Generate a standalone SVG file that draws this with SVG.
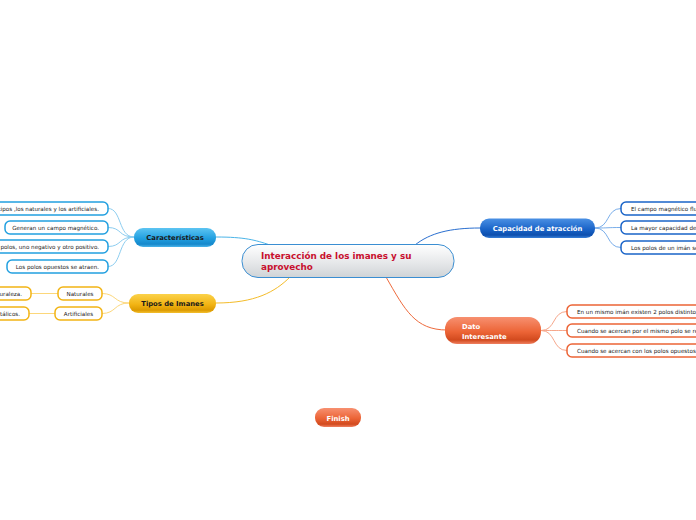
<svg xmlns="http://www.w3.org/2000/svg" width="696" height="520" viewBox="0 0 696 520">
<defs>
<linearGradient id="gC" x1="0" y1="0" x2="0" y2="1"><stop offset="0" stop-color="#ffffff"/><stop offset="0.6" stop-color="#e4e6e8"/><stop offset="1" stop-color="#cfd3d6"/></linearGradient>
<linearGradient id="gB1" x1="0" y1="0" x2="0" y2="1"><stop offset="0" stop-color="#5cc4f2"/><stop offset="0.55" stop-color="#22a0e0"/><stop offset="0.85" stop-color="#1588cc"/><stop offset="1" stop-color="#4ab4ea"/></linearGradient>
<linearGradient id="gB2" x1="0" y1="0" x2="0" y2="1"><stop offset="0" stop-color="#4a90e4"/><stop offset="0.55" stop-color="#1a64c8"/><stop offset="0.85" stop-color="#0d4fae"/><stop offset="1" stop-color="#3a80d8"/></linearGradient>
<linearGradient id="gY" x1="0" y1="0" x2="0" y2="1"><stop offset="0" stop-color="#fbd24a"/><stop offset="0.55" stop-color="#f2b414"/><stop offset="0.85" stop-color="#dc9a00"/><stop offset="1" stop-color="#f4c030"/></linearGradient>
<linearGradient id="gO" x1="0" y1="0" x2="0" y2="1"><stop offset="0" stop-color="#f79070"/><stop offset="0.55" stop-color="#ec6436"/><stop offset="0.85" stop-color="#d24a1e"/><stop offset="1" stop-color="#f08060"/></linearGradient>
</defs>
<style>
.t{font-family:"DejaVu Sans",Verdana,sans-serif;}
.leaf{fill:#ffffff;stroke-width:1.5;}
.lt{font-family:"DejaVu Sans",Verdana,sans-serif;font-size:5.6px;fill:#1a1a1a;}
.mt{font-family:"DejaVu Sans",Verdana,sans-serif;font-size:6.8px;font-weight:bold;}
.c{fill:none;stroke-width:1;}
</style>
<g id="connectors">
<path class="c" stroke="#4ab4e8" stroke-width="1.2" d="M216,237 C245,237 255,240 270,245"/>
<path class="c" stroke="#f4bc2a" stroke-width="1.2" d="M216,303 C255,303 275,292 290,277"/>
<path class="c" stroke="#2a6fd0" stroke-width="1.2" d="M415,245 C430,233 450,228 480,228"/>
<path class="c" stroke="#ee6a3c" stroke-width="1.2" d="M386,277 C405,310 415,330 447,330"/>
<g stroke="#8ccdf0">
<path class="c" d="M134,237 C118,237 122,208.5 108,208.5"/>
<path class="c" d="M134,237 C118,237 122,227.5 108,227.5"/>
<path class="c" d="M134,237 C118,237 122,246.5 108,246.5"/>
<path class="c" d="M134,237 C118,237 122,266.5 108,266.5"/>
</g>
<g stroke="#fcd77a">
<path class="c" d="M129,303 C114,303 116,293.5 102,293.5"/>
<path class="c" d="M129,303 C114,303 116,313.5 102,313.5"/>
<path class="c" d="M58,293.5 L31,293.5"/>
<path class="c" d="M55,313.5 L29,313.5"/>
</g>
<g stroke="#7aaeea">
<path class="c" d="M595,228 C610,228 606,208.5 621,208.5"/>
<path class="c" d="M595,228 C610,228 606,227.5 621,227.5"/>
<path class="c" d="M595,228 C610,228 606,247.5 621,247.5"/>
</g>
<g stroke="#f6a68a">
<path class="c" d="M541,330.5 C556,330.5 552,311.5 567,311.5"/>
<path class="c" d="M541,330.5 C556,330.5 552,330.5 567,330.5"/>
<path class="c" d="M541,330.5 C556,330.5 552,350.5 567,350.5"/>
</g>
</g>
<g id="central">
<rect x="242" y="244.5" width="212" height="33" rx="16" fill="url(#gC)" stroke="#3a8ed2" stroke-width="1"/>
<text class="t" x="261" y="259" font-size="8.8" font-weight="bold" fill="#c8102e">Interacción de los imanes y su</text>
<text class="t" x="261" y="270" font-size="8.8" font-weight="bold" fill="#c8102e">aprovecho</text>
</g>
<g id="caracteristicas">
<rect x="134" y="228" width="82" height="19" rx="9" fill="url(#gB1)"/>
<text class="mt" x="175" y="240" text-anchor="middle" fill="#1a1a1a">Características</text>
</g>
<g id="c1"><rect class="leaf" x="-10" y="202" width="118" height="13" rx="5" stroke="#22a0e0"/><text class="lt" x="99" y="210.5" text-anchor="end">tipos ,los naturales y los artificiales.</text></g>
<g id="c2"><rect class="leaf" x="5" y="221" width="103" height="13" rx="5" stroke="#22a0e0"/><text class="lt" x="99" y="229.5" text-anchor="end">Generan un campo magnético.</text></g>
<g id="c3"><rect class="leaf" x="-10" y="240" width="118" height="13" rx="5" stroke="#22a0e0"/><text class="lt" x="99" y="248.5" text-anchor="end">polos, uno negativo y otro positivo.</text></g>
<g id="c4"><rect class="leaf" x="7" y="260" width="101" height="13" rx="5" stroke="#22a0e0"/><text class="lt" x="99" y="268.5" text-anchor="end">Los polos opuestos se atraen.</text></g>
<g id="tipos">
<rect x="129" y="294" width="87" height="19" rx="9" fill="url(#gY)"/>
<text class="mt" x="172.5" y="306" text-anchor="middle" fill="#1a1a1a">Tipos de Imanes</text>
</g>
<g id="t1"><rect class="leaf" x="58" y="287" width="44" height="13" rx="5" stroke="#f2b414"/><text class="lt" x="80" y="295.5" text-anchor="middle">Naturales</text></g>
<g id="t2"><rect class="leaf" x="55" y="307" width="47" height="13" rx="5" stroke="#f2b414"/><text class="lt" x="78.5" y="315.5" text-anchor="middle">Artificiales</text></g>
<g id="t1a"><rect class="leaf" x="-10" y="287" width="41" height="13" rx="5" stroke="#f2b414"/><text class="lt" x="22" y="295.5" text-anchor="end">uraleza.</text></g>
<g id="t2a"><rect class="leaf" x="-10" y="307" width="39" height="13" rx="5" stroke="#f2b414"/><text class="lt" x="20" y="315.5" text-anchor="end">tálicos.</text></g>
<g id="capacidad">
<rect x="480" y="218.5" width="115" height="19.5" rx="9" fill="url(#gB2)"/>
<text class="mt" x="537.5" y="231" text-anchor="middle" fill="#ffffff">Capacidad de atracción</text>
</g>
<g id="k1"><rect class="leaf" x="621" y="202" width="90" height="13" rx="5" stroke="#1a64c8"/><text class="lt" x="631" y="210.5">El campo magnético flu</text></g>
<g id="k2"><rect class="leaf" x="621" y="221" width="90" height="13" rx="5" stroke="#1a64c8"/><text class="lt" x="631" y="229.5">La mayor capacidad de</text></g>
<g id="k3"><rect class="leaf" x="621" y="241" width="90" height="13" rx="5" stroke="#1a64c8"/><text class="lt" x="631" y="249.5">Los polos de un imán se</text></g>
<g id="dato">
<rect x="445" y="317" width="96" height="27" rx="12" fill="url(#gO)"/>
<text class="mt" x="462" y="329" fill="#ffffff">Dato</text>
<text class="mt" x="462" y="339" fill="#ffffff">Interesante</text>
</g>
<g id="d1"><rect class="leaf" x="567" y="305" width="140" height="13" rx="5" stroke="#ec6436"/><text class="lt" x="577" y="313.5">En un mismo imán existen 2 polos distintos</text></g>
<g id="d2"><rect class="leaf" x="567" y="324" width="140" height="13" rx="5" stroke="#ec6436"/><text class="lt" x="577" y="332.5">Cuando se acercan por el mismo polo se re</text></g>
<g id="d3"><rect class="leaf" x="567" y="344" width="140" height="13" rx="5" stroke="#ec6436"/><text class="lt" x="577" y="352.5">Cuando se acercan con los polos opuestos s</text></g>
<g id="finish">
<rect x="315" y="408" width="46" height="19" rx="9" fill="url(#gO)"/>
<text class="mt" x="338" y="420.5" text-anchor="middle" fill="#ffffff">Finish</text>
</g>
</svg>
